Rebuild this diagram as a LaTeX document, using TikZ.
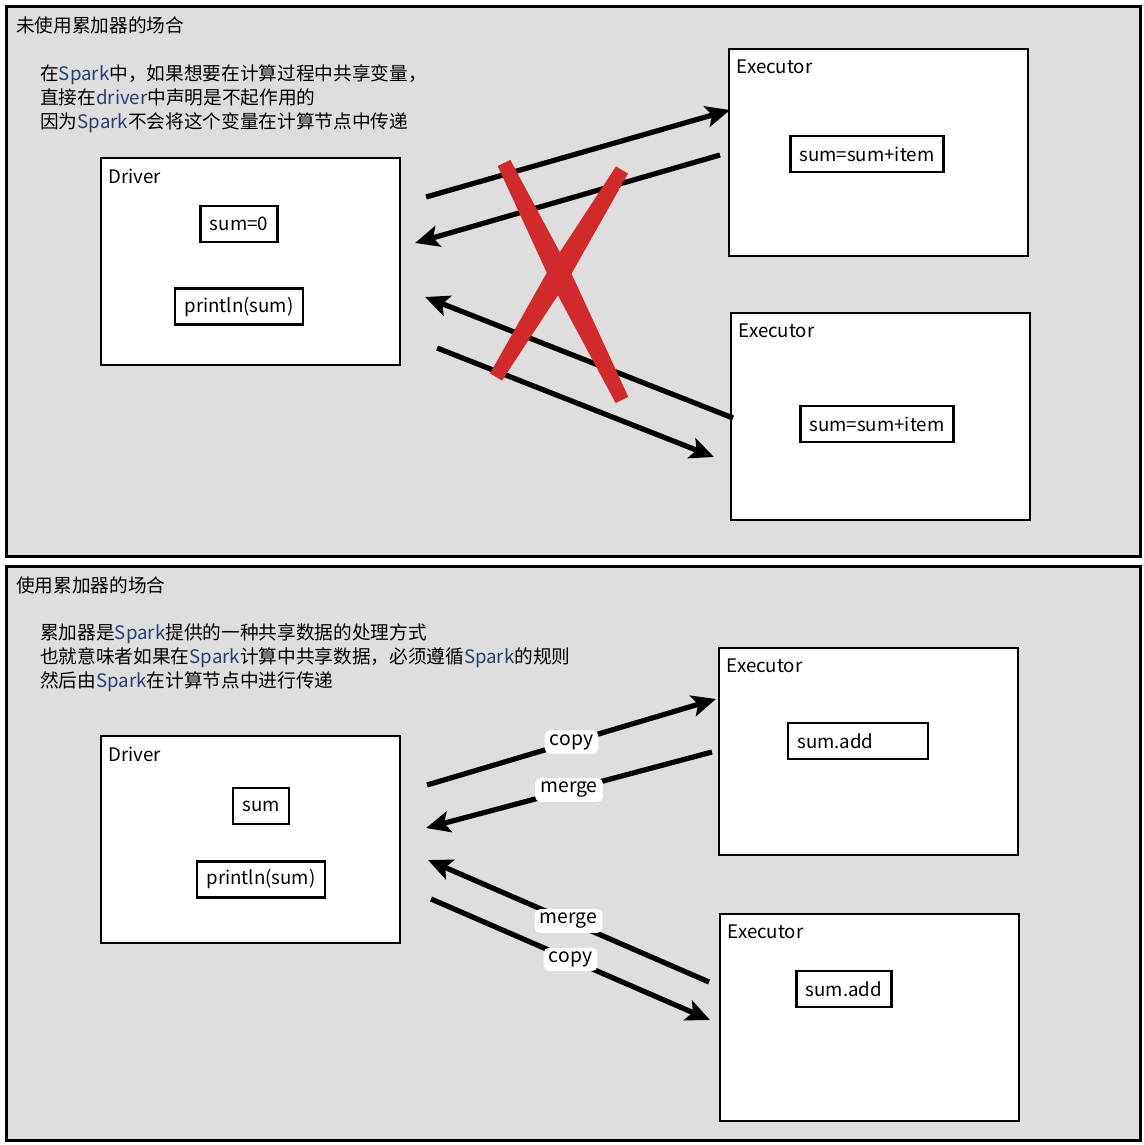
\documentclass[tikz,border=0pt]{standalone}
\usepackage{fontspec}
\setmainfont{Noto Sans CJK SC}
\usetikzlibrary{positioning, arrows.meta}
\definecolor{panelgray}{RGB}{222,222,222}
\definecolor{crossred}{RGB}{210,42,42}
\definecolor{sparkblue}{RGB}{38,62,118}
\newcommand{\spk}[1]{\textcolor{sparkblue}{#1}}
\tikzset{
    x=0.75pt, y=-0.75pt, % one unit is one pixel of the sketch, y runs down
    every node/.style={font=\fontsize{14}{18}\selectfont}, % text size of the whole sketch
    panel/.style={draw, line width=2.2pt, fill=panelgray, anchor=north west, minimum width=850.5pt}, % the two gray frames
    machine/.style={draw, line width=1.8pt, fill=white, anchor=north west, minimum width=224pt, minimum height=155pt}, % Driver and Executor boxes
    caption/.style={anchor=north west, xshift=3pt, yshift=-5.5pt}, % name in the corner of a box
    var/.style={draw, line width=2pt, fill=white, minimum height=27pt, inner xsep=7pt}, % small code boxes
    flow/.style={-{Stealth[length=18pt, width=16pt, inset=4pt]}, line width=3.9pt}, % the thick arrows
    tag/.style={fill=white, rounded corners=4pt, inner xsep=4pt, inner ysep=3pt, font=\fontsize{14.5}{16}\selectfont}, % copy / merge
    node distance=33pt, % gap between the code boxes of a driver
}
\begin{document}
\begin{tikzpicture}
    \useasboundingbox (0,0) rectangle (1144,1145);
    % without accumulator
    \node[panel, minimum height=412.5pt] (top) at (5,5) {};
    \node[anchor=west, inner sep=0pt] (t1) at (16,25) {未使用累加器的场合};
    \node[anchor=north west, inner sep=0pt, align=left] (n1) at (40,64) {在\spk{Spark}中，如果想要在计算过程中共享变量，\\直接在\spk{driver}中声明是不起作用的\\因为\spk{Spark}不会将这个变量在计算节点中传递};
    \node[machine, label={[caption]north west:Driver}] (d1) at (100,157) {};
    \node[machine, label={[caption]north west:Executor}] (e1) at (728,48) {};
    \node[machine, label={[caption]north west:Executor}] (e2) at (730,312) {};
    \node[var] (s1) at (239,224) {sum=0};
    \node[var, below=of s1] (p1) {println(sum)};
    \node[var] (i1) at (867,154) {sum=sum+item};
    \node[var] (i2) at (877,424) {sum=sum+item};
    \draw[flow] ([shift={(25,40)}]d1.north east) -- ([shift={(2,62)}]e1.north west);
    \draw[flow] ([shift={(-8,107)}]e1.north west) -- ([shift={(14,86)}]d1.north east);
    \draw[flow] ([shift={(3,106)}]e2.north west) -- ([shift={(24,140)}]d1.north east);
    \draw[flow] ([shift={(36,191)}]d1.north east) -- ([shift={(-16,145)}]e2.north west);
    % red cross
    \fill[crossred] (510.3,159.9) -- (572.9,276.6) -- (628.3,396.9) -- (615.7,403.1) -- (553.1,286.4) -- (497.7,166.1) -- cycle;
    \fill[crossred] (628.0,173.6) -- (568.4,279.2) -- (502.0,380.6) -- (490.0,373.4) -- (549.6,267.8) -- (616.0,166.4) -- cycle;
    % with accumulator
    \node[panel, minimum height=430.5pt] (bottom) at (5,565) {};
    \node[anchor=west, inner sep=0pt] (t2) at (16,585) {使用累加器的场合};
    \node[anchor=north west, inner sep=0pt, align=left] (n2) at (40,623) {累加器是\spk{Spark}提供的一种共享数据的处理方式\\也就意味者如果在\spk{Spark}计算中共享数据，必须遵循\spk{Spark}的规则\\然后由\spk{Spark}在计算节点中进行传递};
    \node[machine, label={[caption]north west:Driver}] (d2) at (100,735) {};
    \node[machine, label={[caption]north west:Executor}] (e3) at (718,647) {};
    \node[machine, label={[caption]north west:Executor}] (e4) at (719,913) {};
    \node[var] (s2) at (261,806) {sum};
    \node[var, below=26pt of s2] (p2) {println(sum)};
    \node[var, text width=91pt, align=left] (a1) at (858,741) {sum.add};
    \node[var] (a2) at (844,989) {sum.add};
    \draw[flow] ([shift={(26,50)}]d2.north east) -- node[tag] {copy} ([shift={(-2,52)}]e3.north west);
    \draw[flow] ([shift={(-6,105)}]e3.north west) -- node[tag] {merge} ([shift={(25,93)}]d2.north east);
    \draw[flow] ([shift={(-10,69)}]e4.north west) -- node[tag] {merge} ([shift={(27,125)}]d2.north east);
    \draw[flow] ([shift={(30,164)}]d2.north east) -- node[tag] {copy} ([shift={(-9,107)}]e4.north west);
\end{tikzpicture}
\end{document}
